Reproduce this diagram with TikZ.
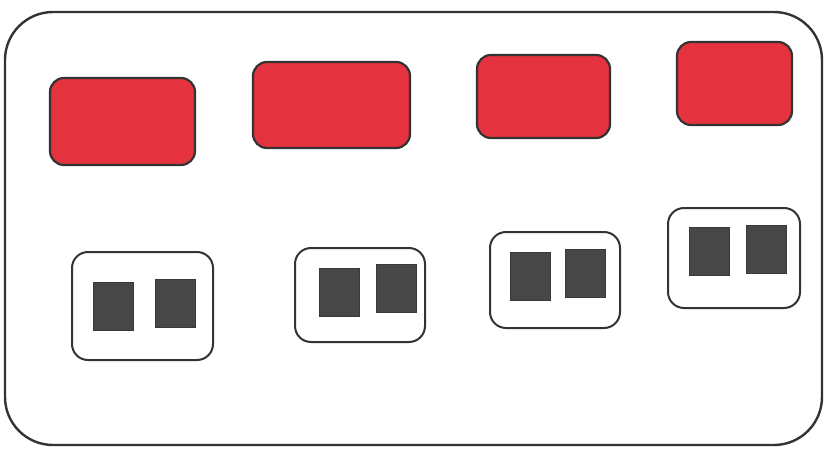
\documentclass[tikz,border=0pt]{standalone}
\usepackage{tikz}
\usetikzlibrary{shapes,arrows}
\definecolor{crayonred}{HTML}{E5323F}
\definecolor{pencilgray}{HTML}{474747}
\definecolor{outline}{HTML}{333333}

\begin{document}
\begin{tikzpicture}[x=1pt, y=-1pt,
				redbox/.style={draw=outline, line width=2.2pt, fill=crayonred, rounded corners=14pt, inner sep=0pt},
				padbox/.style={draw=outline, line width=2pt, fill=white, rounded corners=16pt, inner sep=0pt},
				keybox/.style={draw=pencilgray!80!black, line width=1pt, fill=pencilgray, inner sep=0pt, minimum width=40pt, minimum height=48pt}]
				%Bildbereich
				\useasboundingbox (0,0) rectangle (830,452);
				% Rahmen
				\node[draw=outline, line width=2.4pt, rounded corners=48pt, minimum width=817pt, minimum height=433pt] (frame) at (413.5,228.5) {};
				% rote Kaesten oben
				\foreach \n/\x/\y/\w/\h in {1/122.5/121.5/145/87, 2/331.5/105/157/86, 3/543.5/96.5/133/83, 4/734.5/83.5/115/83}
					\node[redbox, minimum width=\w pt, minimum height=\h pt] (red\n) at (\x,\y) {};
				% weisse Kaesten unten
				\foreach \n/\x/\y/\w/\h in {1/142.5/306/141/108, 2/360/295/130/94, 3/555/280/130/96, 4/734/258/132/100}
					\node[padbox, minimum width=\w pt, minimum height=\h pt] (pad\n) at (\x,\y) {};
				% dunkle Quadrate
				\foreach \n/\xa/\ya/\xb/\yb in {1/113/306/175/303.5, 2/339/292.5/396.5/288.5, 3/530/276.5/585/273.5, 4/709/251/766.5/249.5}
				{
					\node[keybox] (key\n a) at (\xa,\ya) {};
					\node[keybox] (key\n b) at (\xb,\yb) {};
				}
			\end{tikzpicture}
\end{document}
